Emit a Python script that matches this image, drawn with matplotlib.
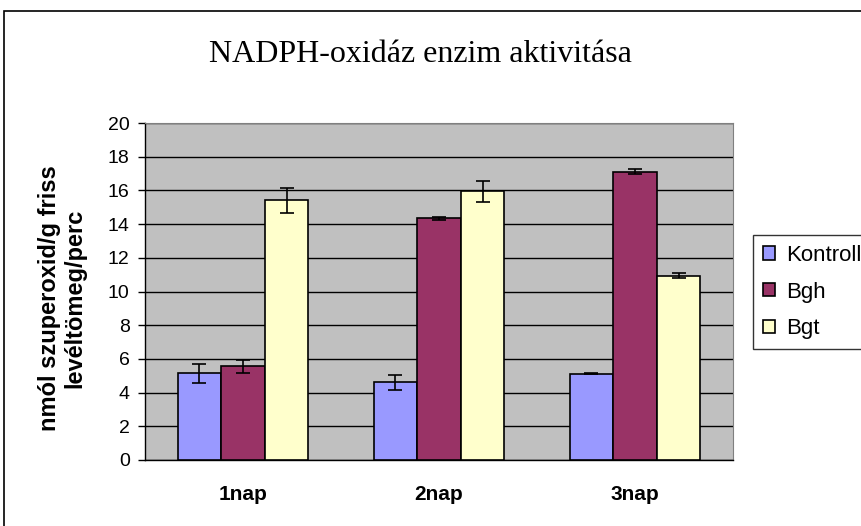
import numpy as np
import matplotlib.pyplot as plt
from matplotlib.patches import Rectangle

categories = ['1nap', '2nap', '3nap']
series = ['Kontroll', 'Bgh', 'Bgt']
kontroll = [5.14, 4.61, 5.12]
kontroll_err = [0.55, 0.43, 0.03]
bgh = [5.56, 14.34, 17.12]
bgh_err = [0.40, 0.07, 0.15]
bgt = [15.42, 15.95, 10.93]
bgt_err = [0.75, 0.63, 0.15]
yticks = list(range(0, 21, 2))

colors = ['#9999FF', '#993366', '#FFFFCC']
values = [kontroll, bgh, bgt]
errors = [kontroll_err, bgh_err, bgt_err]

plt.rcParams['font.family'] = ['Liberation Sans', 'DejaVu Sans']

fig = plt.figure(figsize=(8.61, 5.26), dpi=100)
ax = fig.add_axes([145 / 861, 1 - 460 / 526, 588 / 861, 337 / 526])

# outer chart frame (runs off the right and bottom edge)
fig.patches.append(Rectangle((4 / 861, -0.1), 1.2, 1.1 - 11 / 526,
                             transform=fig.transFigure, fill=False,
                             edgecolor='black', linewidth=1.2))

x = np.arange(len(categories))
width = 1 / 4.5
for i, (vals, errs) in enumerate(zip(values, errors)):
    pos = x + (i - 1) * width
    ax.bar(pos, vals, width, color=colors[i], edgecolor='black',
           linewidth=1.2, label=series[i], zorder=3)
    ax.errorbar(pos, vals, yerr=errs, fmt='none', ecolor='black',
                elinewidth=1.2, capsize=5, capthick=1.2, zorder=4)

ax.set_facecolor('#C0C0C0')
ax.set_xlim(-0.5, 2.5)
ax.set_ylim(0, 20)
ax.set_yticks(yticks)
ax.set_yticklabels([str(t) for t in yticks], fontsize=14)
ax.yaxis.grid(True, color='black', linewidth=1, zorder=1)
ax.set_axisbelow(True)
ax.set_xticks(x)
ax.set_xticklabels(categories, fontsize=15, fontweight='bold')
ax.tick_params(axis='x', length=0, pad=18)
ax.tick_params(axis='y', length=5, width=1, direction='out', pad=6)
for s in ['top', 'right']:
    ax.spines[s].set_color('#808080')
for s in ['left', 'bottom']:
    ax.spines[s].set_color('black')
    ax.spines[s].set_linewidth(1)

fig.text(62 / 861, 1 - 298 / 526, 'nmól szuperoxid/g friss\nlevéltömeg/perc',
         fontsize=17, fontweight='bold', rotation=90, ha='center',
         va='center', multialignment='center', linespacing=1.1)

fig.text(420 / 861, 1 - 55 / 526, 'NADPH-oxidáz enzim aktivitása',
         fontsize=23, family=['Liberation Serif', 'DejaVu Serif'],
         ha='center', va='center')

leg = ax.legend(loc='upper left', bbox_to_anchor=(753 / 861, 1 - 235 / 526),
                bbox_transform=fig.transFigure, fontsize=16, frameon=True,
                fancybox=False, edgecolor='black', borderaxespad=0,
                handlelength=0.55, handleheight=0.55, handletextpad=0.5,
                labelspacing=0.7, borderpad=0.45)
leg.get_frame().set_linewidth(1)

fig.savefig('out.png', dpi=100)
